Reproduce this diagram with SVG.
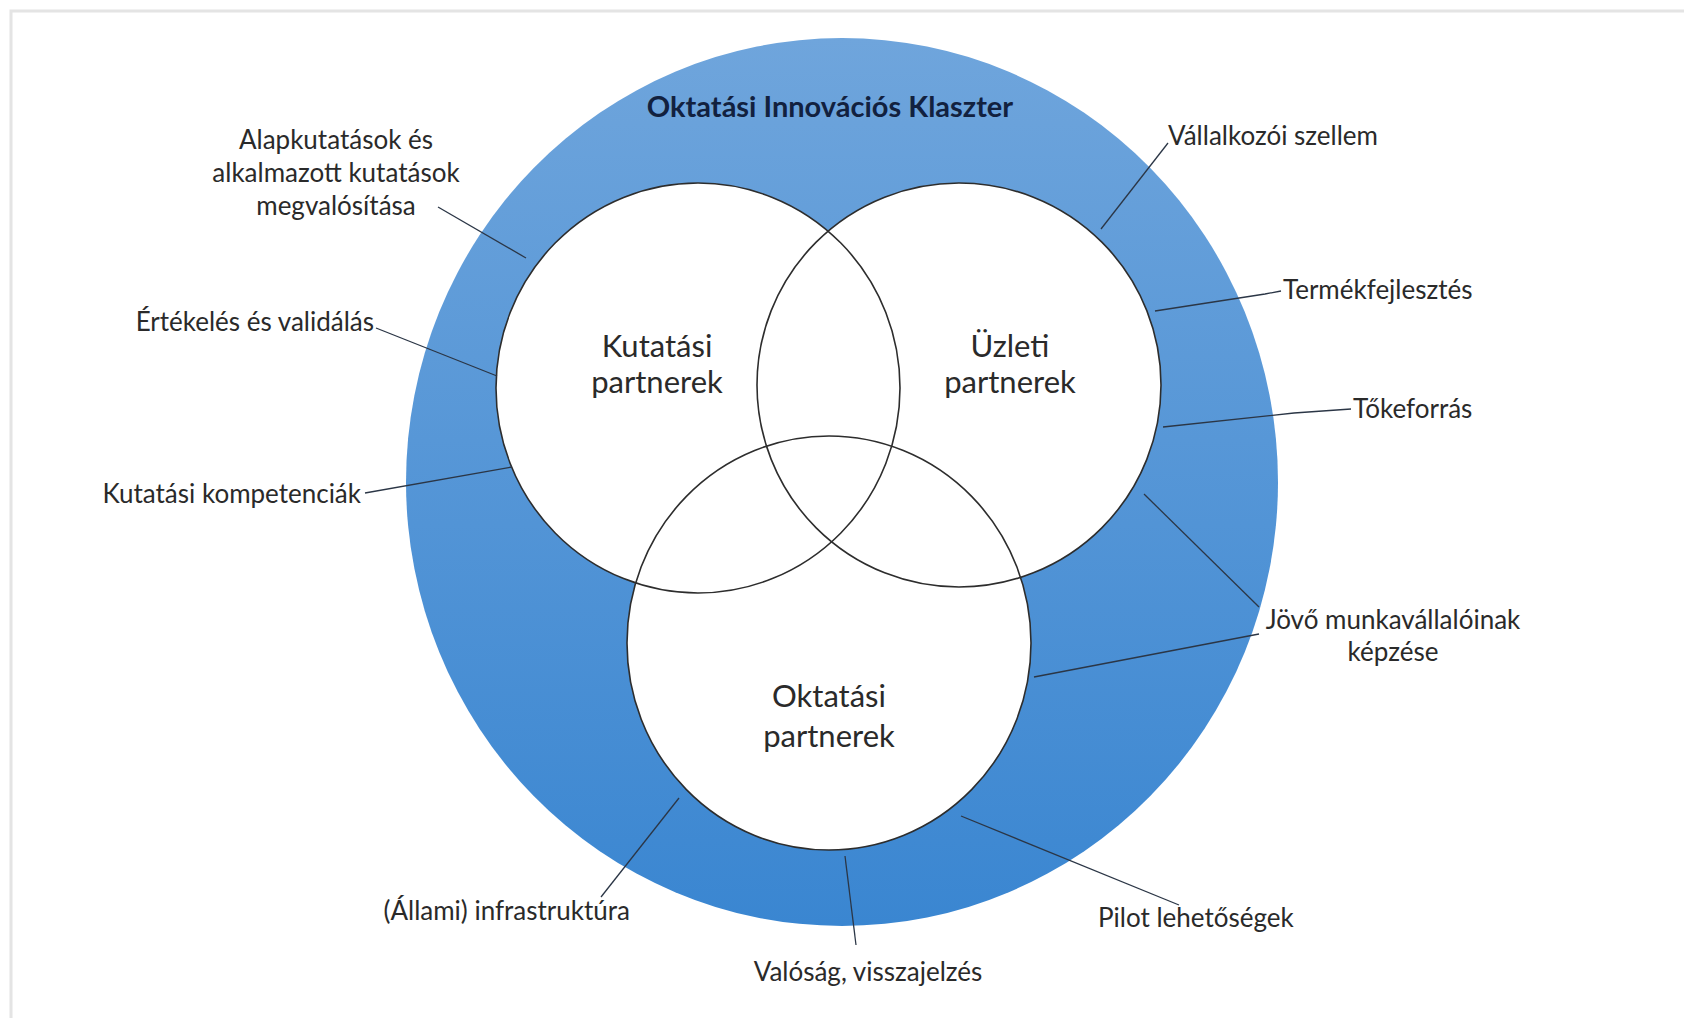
<svg xmlns="http://www.w3.org/2000/svg" width="1684" height="1018" viewBox="0 0 1684 1018">
<defs>
<linearGradient id="ringGrad" x1="0" y1="0" x2="0" y2="1">
<stop offset="0" stop-color="#6fa5dc"/>
<stop offset="1" stop-color="#3a86d1"/>
</linearGradient>
<style>
.lbl{font-family:Lato,"Liberation Sans",sans-serif;font-size:26px;fill:#2a2a2a;}
.big{font-family:Lato,"Liberation Sans",sans-serif;font-size:31px;fill:#2a2a2a;text-anchor:middle;}
.title{font-family:Lato,"Liberation Sans",sans-serif;font-size:29px;font-weight:bold;fill:#12213f;text-anchor:middle;}
.disk{fill:#ffffff;stroke:none;}
.edge{fill:none;stroke:#2d2d2d;stroke-width:1.6;}
.lead{fill:none;stroke:#2b3646;stroke-width:1.3;}
.frame{fill:none;stroke:#e4e4e4;stroke-width:3;}
</style>
</defs>
<rect width="1684" height="1018" fill="#ffffff"/>
<path class="frame" d="M11,1018 V11 H1684"/>
<g id="cluster">
<ellipse cx="842" cy="482" rx="436" ry="444" fill="url(#ringGrad)"/>
<text class="title" x="830" y="117">Oktatási Innovációs Klaszter</text>
</g>
<g id="disks">
<ellipse class="disk" cx="698" cy="388" rx="202" ry="205"/>
<ellipse class="disk" cx="959" cy="385" rx="202" ry="202"/>
<ellipse class="disk" cx="829" cy="643" rx="202" ry="207"/>
</g>
<g id="kutatasi-partnerek">
<ellipse class="edge" cx="698" cy="388" rx="202" ry="205"/>
<text class="big" x="657" y="357">Kutatási</text>
<text class="big" x="657" y="393">partnerek</text>
</g>
<g id="uzleti-partnerek">
<ellipse class="edge" cx="959" cy="385" rx="202" ry="202"/>
<text class="big" x="1010" y="357">Üzleti</text>
<text class="big" x="1010" y="393">partnerek</text>
</g>
<g id="oktatasi-partnerek">
<ellipse class="edge" cx="829" cy="643" rx="202" ry="207"/>
<text class="big" x="829" y="707">Oktatási</text>
<text class="big" x="829" y="747">partnerek</text>
</g>
<g id="connectors">
<path class="lead" d="M438,207 L526,258"/>
<path class="lead" d="M376,328 L497,376"/>
<path class="lead" d="M365,493 L512,467"/>
<path class="lead" d="M1168,143 L1101,229"/>
<path class="lead" d="M1281,291 L1265,294 L1155,311"/>
<path class="lead" d="M1351,409 L1294,413 L1163,427"/>
<path class="lead" d="M1259,607 L1144,494"/>
<path class="lead" d="M1259,634 L1034,677"/>
<path class="lead" d="M1179,905 L961,816"/>
<path class="lead" d="M856,945 L845,856"/>
<path class="lead" d="M601,897 L679,798"/>
</g>
<g id="label-alapkutatasok">
<text class="lbl" x="336" y="149" text-anchor="middle">Alapkutatások és</text>
<text class="lbl" x="336" y="182" text-anchor="middle">alkalmazott kutatások</text>
<text class="lbl" x="336" y="215" text-anchor="middle">megvalósítása</text>
</g>
<g id="label-ertekeles"><text class="lbl" x="374" y="331" text-anchor="end">Értékelés és validálás</text></g>
<g id="label-kompetenciak"><text class="lbl" x="361" y="503" text-anchor="end">Kutatási kompetenciák</text></g>
<g id="label-vallalkozoi"><text class="lbl" x="1168" y="145">Vállalkozói szellem</text></g>
<g id="label-termekfejlesztes"><text class="lbl" x="1283" y="299">Termékfejlesztés</text></g>
<g id="label-tokeforras"><text class="lbl" x="1353" y="418">Tőkeforrás</text></g>
<g id="label-jovo">
<text class="lbl" x="1393" y="629" text-anchor="middle">Jövő munkavállalóinak</text>
<text class="lbl" x="1393" y="661" text-anchor="middle">képzése</text>
</g>
<g id="label-pilot"><text class="lbl" x="1098" y="927">Pilot lehetőségek</text></g>
<g id="label-valosag"><text class="lbl" x="868" y="981" text-anchor="middle">Valóság, visszajelzés</text></g>
<g id="label-infrastruktura"><text class="lbl" x="630" y="920" text-anchor="end">(Állami) infrastruktúra</text></g>
</svg>
